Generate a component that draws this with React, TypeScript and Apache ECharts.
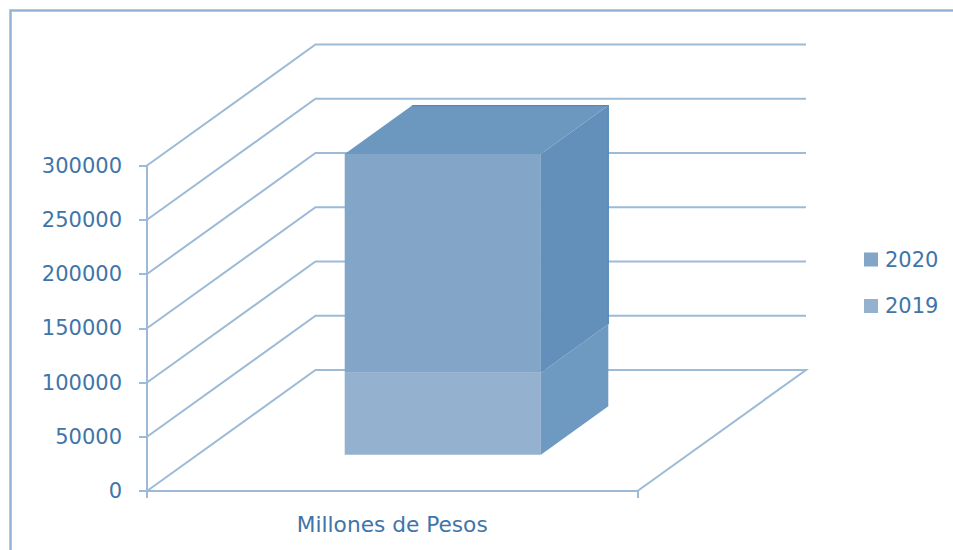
import React, { useEffect, useRef } from "react";
import * as echarts from "echarts";

const categories = ["Millones de Pesos"];
const yTicks = [0, 50000, 100000, 150000, 200000, 250000, 300000];
const values2019 = [75600];
const values2020 = [201600];

const TEXT = "#3f75a8";
const LINE = "#9dbad7";
const LINE_WIDTH = 2;
const FONT = "'DejaVu Sans', sans-serif";

// Oblique projection of the floor: full depth of the plot, and the slice the column occupies.
const DEPTH_X = 168.5;
const DEPTH_Y = -121;
const NEAR = 0.3;
const FAR = 0.7;

const COLUMN_2019 = { front: "#94b1cf", side: "#6e9ac2" };
const COLUMN_2020 = { front: "#82a5c8", side: "#6390bb", top: "#6c98c0", edge: "#5488b6" };

function project(api: any, category: number, across: number, value: number, depth: number) {
  const base = api.coord([category, value]);
  const band = api.size([1, 0])[0];
  return [base[0] + (across - 0.5) * band + depth * DEPTH_X, base[1] + depth * DEPTH_Y];
}

function renderWall(_params: any, api: any) {
  const value = api.value(1);
  const points = [project(api, 0, 0, value, 0), project(api, 0, 0, value, 1), project(api, 0, 1, value, 1)];
  if (value === 0) points.push(project(api, 0, 1, 0, 0));
  return {
    type: "polyline",
    silent: true,
    shape: { points },
    style: { stroke: LINE, fill: "none", lineWidth: LINE_WIDTH },
  };
}

function columnFaces(api: any, category: number, low: number, high: number, colors: any, capped: boolean) {
  const at = (across: number, value: number, depth: number) => project(api, category, across, value, depth);
  const children: any[] = [
    {
      type: "polygon",
      shape: { points: [at(FAR, low, NEAR), at(FAR, high, NEAR), at(FAR, high, FAR), at(FAR, low, FAR)] },
      style: { fill: colors.side },
    },
    {
      type: "polygon",
      shape: { points: [at(NEAR, low, NEAR), at(FAR, low, NEAR), at(FAR, high, NEAR), at(NEAR, high, NEAR)] },
      style: { fill: colors.front },
    },
  ];
  if (capped) {
    children.push({
      type: "polygon",
      shape: { points: [at(NEAR, high, NEAR), at(FAR, high, NEAR), at(FAR, high, FAR), at(NEAR, high, FAR)] },
      style: { fill: colors.top },
    });
    children.push({
      type: "polyline",
      shape: { points: [at(NEAR, high, FAR), at(FAR, high, FAR), at(FAR, low, FAR)] },
      style: { stroke: colors.edge, fill: "none", lineWidth: 1.2 },
    });
  }
  return { type: "group", silent: true, children };
}

function render2019(params: any, api: any) {
  return columnFaces(api, api.value(0), 0, values2019[params.dataIndex], COLUMN_2019, false);
}

function render2020(params: any, api: any) {
  const low = values2019[params.dataIndex];
  return columnFaces(api, api.value(0), low, low + values2020[params.dataIndex], COLUMN_2020, true);
}

export default function App() {
  const ref = useRef<HTMLDivElement>(null);

  useEffect(() => {
    const chart = echarts.init(ref.current, null, { renderer: "svg" });
    chart.setOption({
      animation: false,
      backgroundColor: "#ffffff",
      grid: { left: 147, top: 165.5, width: 490.5, height: 325.5 },
      legend: {
        data: ["2020", "2019"],
        orient: "vertical",
        left: 859,
        top: 244,
        itemWidth: 14,
        itemHeight: 14,
        itemGap: 25.5,
        icon: "rect",
        selectedMode: false,
        textStyle: { color: TEXT, fontFamily: FONT, fontSize: 21, padding: [0, 0, 0, 2] },
      },
      xAxis: {
        type: "category",
        data: categories,
        axisLine: { lineStyle: { color: LINE, width: LINE_WIDTH } },
        axisTick: { show: true, length: 7, lineStyle: { color: LINE, width: LINE_WIDTH } },
        axisLabel: { color: TEXT, fontFamily: FONT, fontSize: 21.7, margin: 22 },
      },
      yAxis: {
        type: "value",
        min: 0,
        max: 300000,
        interval: 50000,
        splitLine: { show: false },
        axisLine: { show: true, lineStyle: { color: LINE, width: LINE_WIDTH } },
        axisTick: { show: true, length: 8, lineStyle: { color: LINE, width: LINE_WIDTH } },
        axisLabel: {
          color: TEXT,
          fontFamily: FONT,
          fontSize: 21,
          margin: 25,
          formatter: (value: number) => String(value),
        },
      },
      graphic: [
        {
          type: "polyline",
          silent: true,
          shape: { points: [[10.5, 552], [10.5, 10.5], [955, 10.5]] },
          style: { stroke: "#95b4d4", fill: "none", lineWidth: 2.5 },
        },
      ],
      series: [
        {
          type: "custom",
          name: "planos",
          renderItem: renderWall,
          encode: { x: 0, y: 1 },
          data: yTicks.map((tick) => [0, tick]),
          clip: false,
          silent: true,
          z: 1,
        },
        {
          type: "custom",
          name: "2019",
          renderItem: render2019,
          encode: { x: 0, y: 1 },
          data: values2019.map((value, i) => [i, value]),
          itemStyle: { color: COLUMN_2019.front },
          clip: false,
          silent: true,
          z: 2,
        },
        {
          type: "custom",
          name: "2020",
          renderItem: render2020,
          encode: { x: 0, y: 1 },
          data: values2020.map((value, i) => [i, value]),
          itemStyle: { color: COLUMN_2020.front },
          clip: false,
          silent: true,
          z: 3,
        },
      ],
    });
    return () => chart.dispose();
  }, []);

  return <div ref={ref} style={{ position: "absolute", left: 0, top: 0, width: 953, height: 550 }} />;
}
